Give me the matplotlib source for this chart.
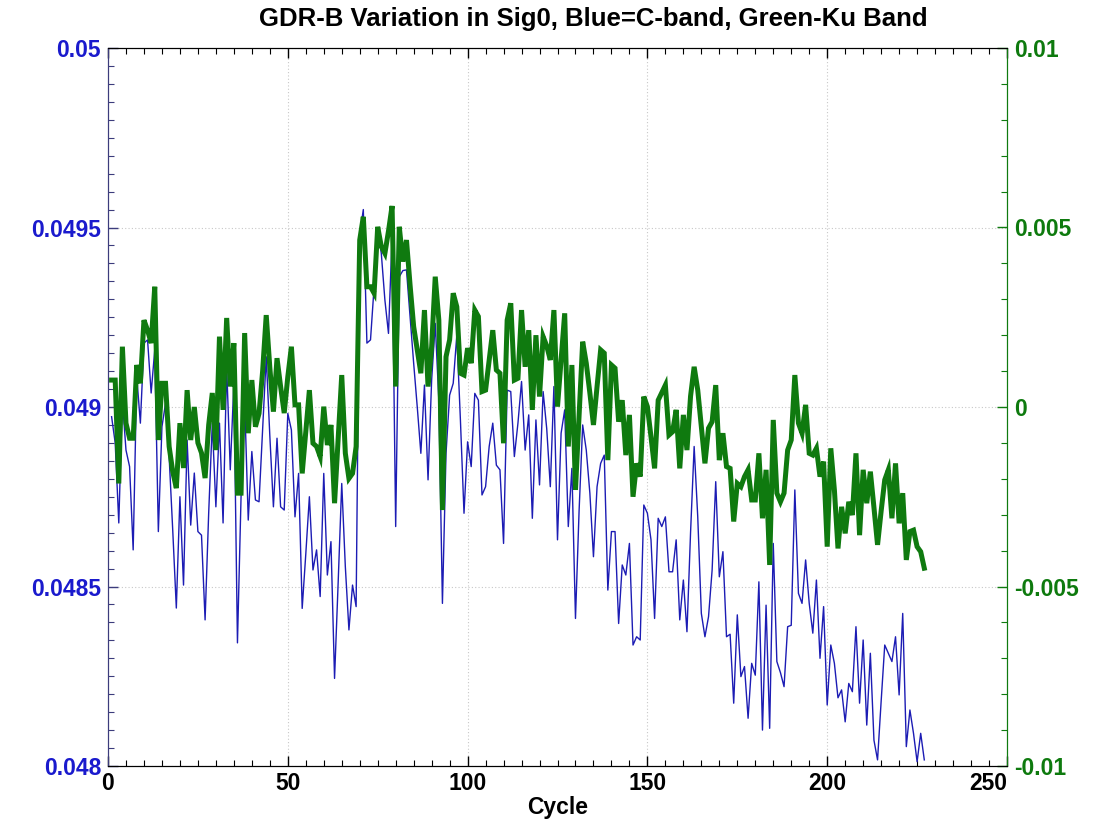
import numpy as np
import matplotlib
matplotlib.use("Agg")
import matplotlib.pyplot as plt
from matplotlib.ticker import MultipleLocator

plt.rcParams['font.family'] = ['Liberation Sans', 'DejaVu Sans']

# Cycle numbers 1..227
cycles = np.arange(1, 228)

# C-band sigma0 variation (left axis)
c_band = [
    0.048973, 0.048900, 0.048677, 0.049019, 0.048880, 0.048834, 0.048602, 0.049084, 0.048955, 0.049178,
    0.049187, 0.049039, 0.049159, 0.048653, 0.048945, 0.049010, 0.048862, 0.048657, 0.048440, 0.048750,
    0.048504, 0.048908, 0.048671, 0.048816, 0.048653, 0.048643, 0.048407, 0.048705, 0.048955, 0.048722,
    0.048955, 0.048677, 0.049112, 0.048825, 0.049066, 0.048343, 0.048750, 0.049019, 0.048685, 0.048876,
    0.048741, 0.048736, 0.048940, 0.049140, 0.048920, 0.048722, 0.048913, 0.048722, 0.048713, 0.048982,
    0.048936, 0.048694, 0.048815, 0.048439, 0.048590, 0.048750, 0.048546, 0.048602, 0.048472, 0.048815,
    0.048532, 0.048625, 0.048244, 0.048510, 0.048787, 0.048555, 0.048379, 0.048504, 0.048444, 0.049480,
    0.049550, 0.049178, 0.049187, 0.049335, 0.049493, 0.049428, 0.049298, 0.049205, 0.049474, 0.048667,
    0.049363, 0.049380, 0.049382, 0.049250, 0.049122, 0.049000, 0.048871, 0.049061, 0.048797, 0.049075,
    0.049233, 0.049019, 0.048453, 0.048871, 0.049033, 0.049066, 0.049200, 0.048964, 0.048704, 0.048903,
    0.048834, 0.049038, 0.049019, 0.048755, 0.048778, 0.048890, 0.048955, 0.048838, 0.048825, 0.048620,
    0.049047, 0.049043, 0.048862, 0.048955, 0.049071, 0.048880, 0.048978, 0.048690, 0.048964, 0.048783,
    0.049043, 0.048940, 0.048778, 0.049057, 0.048630, 0.048927, 0.048992, 0.048667, 0.048829, 0.048411,
    0.048710, 0.048950, 0.048880, 0.048760, 0.048583, 0.048778, 0.048843, 0.048866, 0.048490, 0.048653,
    0.048653, 0.048397, 0.048560, 0.048532, 0.048620, 0.048337, 0.048360, 0.048351, 0.048727, 0.048704,
    0.048630, 0.048411, 0.048690, 0.048667, 0.048694, 0.048541, 0.048541, 0.048630, 0.048407, 0.048518,
    0.048374, 0.048650, 0.048890, 0.048694, 0.048425, 0.048360, 0.048416, 0.048546, 0.048792, 0.048527,
    0.048597, 0.048360, 0.048367, 0.048175, 0.048421, 0.048249, 0.048277, 0.048133, 0.048286, 0.048253,
    0.048513, 0.048100, 0.048448, 0.048105, 0.048620, 0.048291, 0.048260, 0.048221, 0.048388, 0.048392,
    0.048769, 0.048481, 0.048453, 0.048574, 0.048453, 0.048370, 0.048518, 0.048300, 0.048444, 0.048170,
    0.048337, 0.048286, 0.048190, 0.048212, 0.048123, 0.048230, 0.048207, 0.048388, 0.048175, 0.048351,
    0.048114, 0.048314, 0.048072, 0.048017, 0.048180, 0.048337, 0.048314, 0.048291, 0.048360, 0.048198,
    0.048425, 0.048054, 0.048156, 0.048091, 0.048012, 0.048091, 0.048017,
]

# Ku-band sigma0 variation (right axis)
ku_band = [
    0.00075, 0.00075, -0.00213, 0.00168, -0.00045, -0.00087, -0.00087, 0.00117, 0.00066, 0.00242,
    0.00214, 0.00178, 0.00335, -0.00092, 0.00066, 0.00066, -0.00110, -0.00180, -0.00226, -0.00045,
    -0.00170, 0.00047, -0.00092, 0.00000, -0.00100, -0.00128, -0.00198, -0.00050, 0.00039, -0.00120,
    0.00196, -0.00008, 0.00248, 0.00057, 0.00178, -0.00240, -0.00240, 0.00206, -0.00073, 0.00075,
    -0.00055, -0.00018, 0.00100, 0.00256, 0.00110, -0.00013, 0.00136, 0.00057, -0.00017, 0.00084,
    0.00168, 0.00006, 0.00006, -0.00185, -0.00069, 0.00047, -0.00101, -0.00110, -0.00138, 0.00001,
    -0.00106, -0.00050, -0.00268, -0.00092, 0.00089, -0.00129, -0.00199, -0.00185, -0.00110, 0.00465,
    0.00530, 0.00335, 0.00335, 0.00317, 0.00502, 0.00447, 0.00428, 0.00490, 0.00560, 0.00057,
    0.00502, 0.00405, 0.00465, 0.00340, 0.00224, 0.00159, 0.00094, 0.00270, 0.00057, 0.00168,
    0.00363, 0.00242, -0.00287, 0.00140, 0.00187, 0.00317, 0.00279, 0.00094, 0.00089, 0.00164,
    0.00122, 0.00270, 0.00252, 0.00043, 0.00047, 0.00131, 0.00214, 0.00103, 0.00094, -0.00101,
    0.00242, 0.00289, 0.00075, 0.00080, 0.00270, 0.00112, 0.00214, -0.00008, 0.00200, 0.00029,
    0.00196, 0.00170, 0.00131, 0.00270, 0.00001, 0.00131, 0.00261, -0.00110, 0.00117, -0.00231,
    -0.00027, 0.00182, 0.00122, 0.00039, -0.00050, 0.00057, 0.00159, 0.00150, -0.00148, 0.00117,
    0.00108, -0.00041, 0.00019, -0.00134, -0.00022, -0.00250, -0.00157, -0.00194, 0.00029, 0.00001,
    -0.00083, -0.00171, 0.00019, 0.00040, 0.00061, -0.00078, -0.00069, -0.00008, -0.00171, -0.00022,
    -0.00120, 0.00030, 0.00112, 0.00047, -0.00055, -0.00157, -0.00059, -0.00041, 0.00061, -0.00148,
    -0.00073, -0.00166, -0.00171, -0.00319, -0.00213, -0.00222, -0.00194, -0.00175, -0.00259, -0.00259,
    -0.00129, -0.00310, -0.00175, -0.00440, -0.00036, -0.00240, -0.00264, -0.00240, -0.00120, -0.00092,
    0.00089, -0.00045, -0.00073, 0.00006, -0.00129, -0.00134, -0.00115, -0.00194, -0.00152, -0.00389,
    -0.00115, -0.00231, -0.00394, -0.00278, -0.00352, -0.00264, -0.00301, -0.00129, -0.00357, -0.00175,
    -0.00268, -0.00180, -0.00280, -0.00384, -0.00290, -0.00203, -0.00175, -0.00310, -0.00157, -0.00324,
    -0.00240, -0.00426, -0.00347, -0.00343, -0.00389, -0.00403, -0.00449,
]

left_ticks = [0.048, 0.0485, 0.049, 0.0495, 0.05]
left_labels = ['0.048', '0.0485', '0.049', '0.0495', '0.05']
right_ticks = [-0.01, -0.005, 0.0, 0.005, 0.01]
right_labels = ['-0.01', '-0.005', '0', '0.005', '0.01']
x_ticks = [0, 50, 100, 150, 200, 250]
x_labels = ['0', '50', '100', '150', '200', '250']

BLUE = '#1c1cb4'
BLUE_TXT = '#1a1acd'
GREEN = '#0f7a0f'
GREEN_TXT = '#0e7a0e'
SPINE_BLUE = '#3c3c7c'

W, H = 1103, 836
fig = plt.figure(figsize=(W / 100, H / 100), dpi=100)
ax = fig.add_axes([108 / W, 1 - 766 / H, (1007 - 108) / W, (766 - 48) / H])

ax.plot(cycles, c_band, color=BLUE, lw=1.0, zorder=3)
ax.set_xlim(0, 250)
ax.set_ylim(0.048, 0.05)
ax.set_xticks(x_ticks)
ax.set_xticklabels(x_labels)
ax.set_yticks(left_ticks)
ax.set_yticklabels(left_labels)
ax.xaxis.set_minor_locator(MultipleLocator(5))
ax.yaxis.set_minor_locator(MultipleLocator(0.00005))
ax.grid(True, which='major', color='#c8c8c8', linestyle=(0, (1, 2)), linewidth=0.8)
ax.tick_params(axis='both', which='both', direction='in', top=True, right=False)
ax.tick_params(axis='both', which='major', length=7, width=1.0)
ax.tick_params(axis='both', which='minor', length=4, width=0.8)
ax.tick_params(axis='y', which='both', colors=SPINE_BLUE, labelcolor=BLUE_TXT,
               labelsize=16.5, pad=5)
ax.tick_params(axis='x', labelsize=16.5, pad=4)
for lab in ax.get_yticklabels() + ax.get_xticklabels():
    lab.set_fontweight('bold')
# the last cycle label sits left of its tick so it clears the right-axis label
ax.get_xticklabels()[-1].set_horizontalalignment('right')
ax.spines['left'].set_color(SPINE_BLUE)
ax.spines['right'].set_color(GREEN)
ax.set_xlabel('Cycle', fontsize=16.5, fontweight='bold', labelpad=1)
ax.set_title('GDR-B Variation in Sig0, Blue=C-band, Green-Ku Band',
             fontsize=18.5, fontweight='bold', pad=16, x=0.54)

ax2 = ax.twinx()
ax2.plot(cycles, ku_band, color=GREEN, lw=3.6, solid_joinstyle='miter', zorder=4)
ax2.set_ylim(-0.01, 0.01)
ax2.set_yticks(right_ticks)
ax2.set_yticklabels(right_labels)
ax2.yaxis.set_minor_locator(MultipleLocator(0.001))
ax2.tick_params(axis='y', which='both', direction='in', colors=GREEN,
                labelcolor=GREEN_TXT, labelsize=16.5, pad=5)
ax2.tick_params(axis='y', which='major', length=7, width=1.0)
ax2.tick_params(axis='y', which='minor', length=4, width=0.8)
for lab in ax2.get_yticklabels():
    lab.set_fontweight('bold')
ax2.spines['right'].set_color(GREEN)
ax2.spines['left'].set_color(SPINE_BLUE)

fig.savefig('out.png', dpi=100)
